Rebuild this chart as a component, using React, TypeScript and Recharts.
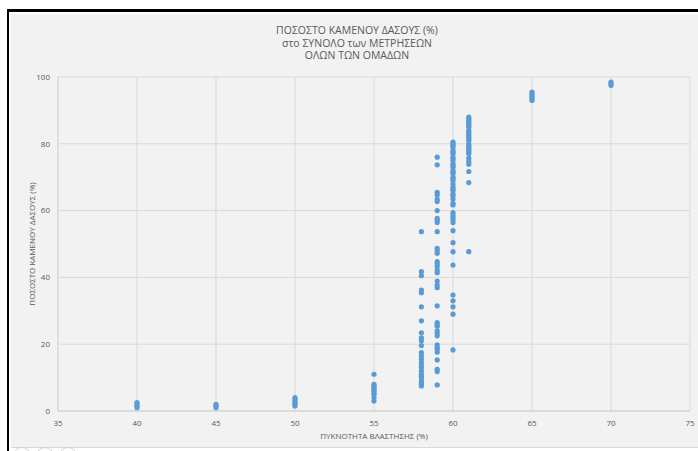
import React from "react"
import { CartesianGrid, Scatter, ScatterChart, XAxis, YAxis } from "recharts"

// vegetation density (x) -> burnt forest % values
const burn40 = [1, 1.5, 2, 2.5]
const burn45 = [1, 1.5, 2]
const burn50 = [1.5, 2, 2.5, 3, 3.5, 4]
const burn55 = [3, 4, 5, 5.5, 6, 6.5, 7, 7.5, 8, 11]
const burn58 = [
  7.5, 8, 8.5, 9, 10, 10.5, 11, 12, 13, 13.5, 14.5, 15.5, 16.5, 17.5, 19.6, 21, 21.9, 23.4, 27, 31.2,
  35.4, 36.2, 40.5, 41.7, 53.7,
]
const burn59 = [
  7.8, 11.8, 12.5, 15.3, 17.6, 18.5, 19, 19.8, 22.5, 23.3, 24, 25.4, 26, 26.5, 31.5, 36.9, 37.7, 38.9,
  41.4, 42.2, 43.3, 44, 44.7, 47.2, 48, 48.7, 53.7, 56.4, 57, 57.7, 60, 62.7, 63.4, 64.7, 65.5, 73.7, 76,
]
const burn60 = [
  18.3, 29, 31.2, 33, 34.7, 43.7, 47.7, 50.4, 54, 56.4, 57.2, 58, 58.7, 59.4, 61.7, 62.2, 63.5, 64.5, 65,
  66, 66.5, 67, 68, 69, 69.5, 70, 71, 71.5, 72, 73, 73.5, 74, 75, 75.5, 76, 77, 77.5, 78, 79, 79.5, 80,
  80.5,
]
const burn61 = [
  47.7, 68.4, 71.7, 73.9, 74.7, 75.7, 77, 77.5, 78, 78.5, 79, 79.5, 80, 81, 81.5, 82, 82.5, 83, 83.5, 84,
  85, 85.5, 86, 86.5, 87, 87.5, 88,
]
const burn65 = [93, 93.5, 94, 94.5, 95, 95.5]
const burn70 = [97.5, 98, 98.5]

const densities = [40, 45, 50, 55, 58, 59, 60, 61, 65, 70]
const burnSets = [burn40, burn45, burn50, burn55, burn58, burn59, burn60, burn61, burn65, burn70]

const xTicks = [35, 40, 45, 50, 55, 60, 65, 70, 75]
const yTicks = [0, 20, 40, 60, 80, 100]

const titleLines = ["ΠΟΣΟΣΤΟ ΚΑΜΕΝΟΥ ΔΑΣΟΥΣ (%)", "στο ΣΥΝΟΛΟ των ΜΕΤΡΗΣΕΩΝ", "ΟΛΩΝ ΤΩΝ ΟΜΑΔΩΝ"]

const points = densities.flatMap((d, i) => burnSets[i].map((v) => ({ x: d, y: v })))

const font = "'Open Sans', 'Noto Sans', sans-serif"
const textColor = "#595959"

const Dot = (props: any) => <circle cx={props.cx} cy={props.cy} r={2.6} fill="#5b9bd5" />

export default function App() {
  return (
    <div style={{ position: "absolute", left: 0, top: 0, width: 698, height: 451, background: "#fff", overflow: "hidden" }}>
      {/* screenshot frame */}
      <div style={{ position: "absolute", left: 7, top: 9, width: 691, height: 3, background: "#000" }} />
      <div style={{ position: "absolute", left: 7, top: 9, width: 2, height: 442, background: "#000" }} />
      <div style={{ position: "absolute", left: 11, top: 14, width: 687, height: 433, background: "#f2f2f2" }} />
      <div style={{ position: "absolute", left: 11, top: 447, width: 687, height: 1, background: "#d9d9d9" }} />
      {[22, 45, 68].map((cx) => (
        <div
          key={cx}
          style={{
            position: "absolute",
            left: cx - 9,
            top: 447,
            width: 16,
            height: 16,
            borderRadius: 10,
            border: "1px solid #d0d0d0",
          }}
        />
      ))}

      <div
        style={{
          position: "absolute",
          left: 247,
          top: 24,
          width: 220,
          textAlign: "center",
          fontFamily: font,
          fontSize: 10.5,
          lineHeight: "12.5px",
          color: textColor,
        }}
      >
        {titleLines.map((t) => (
          <div key={t}>{t}</div>
        ))}
      </div>

      <div style={{ position: "absolute", left: 0, top: 0 }}>
        <ScatterChart width={698} height={451} margin={{ top: 77, right: 8, bottom: 0, left: 0 }}>
          <CartesianGrid stroke="#d9d9d9" strokeWidth={1} />
          <XAxis
            type="number"
            dataKey="x"
            domain={[35, 75]}
            ticks={xTicks}
            height={40}
            tickLine={false}
            axisLine={{ stroke: "#d0d0d0" }}
            tickMargin={3}
            tick={{ fontSize: 8, fill: textColor, fontFamily: font }}
            interval={0}
            label={{
              value: "ΠΥΚΝΟΤΗΤΑ  ΒΛΑΣΤΗΣΗΣ (%)",
              position: "insideBottom",
              offset: 12,
              style: { fontSize: 8, fill: textColor, fontFamily: font, whiteSpace: "pre" },
            }}
          />
          <YAxis
            type="number"
            dataKey="y"
            domain={[0, 100]}
            ticks={yTicks}
            width={58}
            tickLine={false}
            axisLine={{ stroke: "#d9d9d9" }}
            tick={{ fontSize: 8, fill: textColor, fontFamily: font }}
            interval={0}
            label={{
              value: "ΠΟΣΟΣΤΟ ΚΑΜΕΝΟΥ ΔΑΣΟΥΣ (%)",
              angle: -90,
              position: "insideLeft",
              offset: 32,
              style: { fontSize: 8, fill: textColor, fontFamily: font, textAnchor: "middle" },
            }}
          />
          <Scatter data={points} shape={Dot} isAnimationActive={false} />
        </ScatterChart>
      </div>
    </div>
  )
}
